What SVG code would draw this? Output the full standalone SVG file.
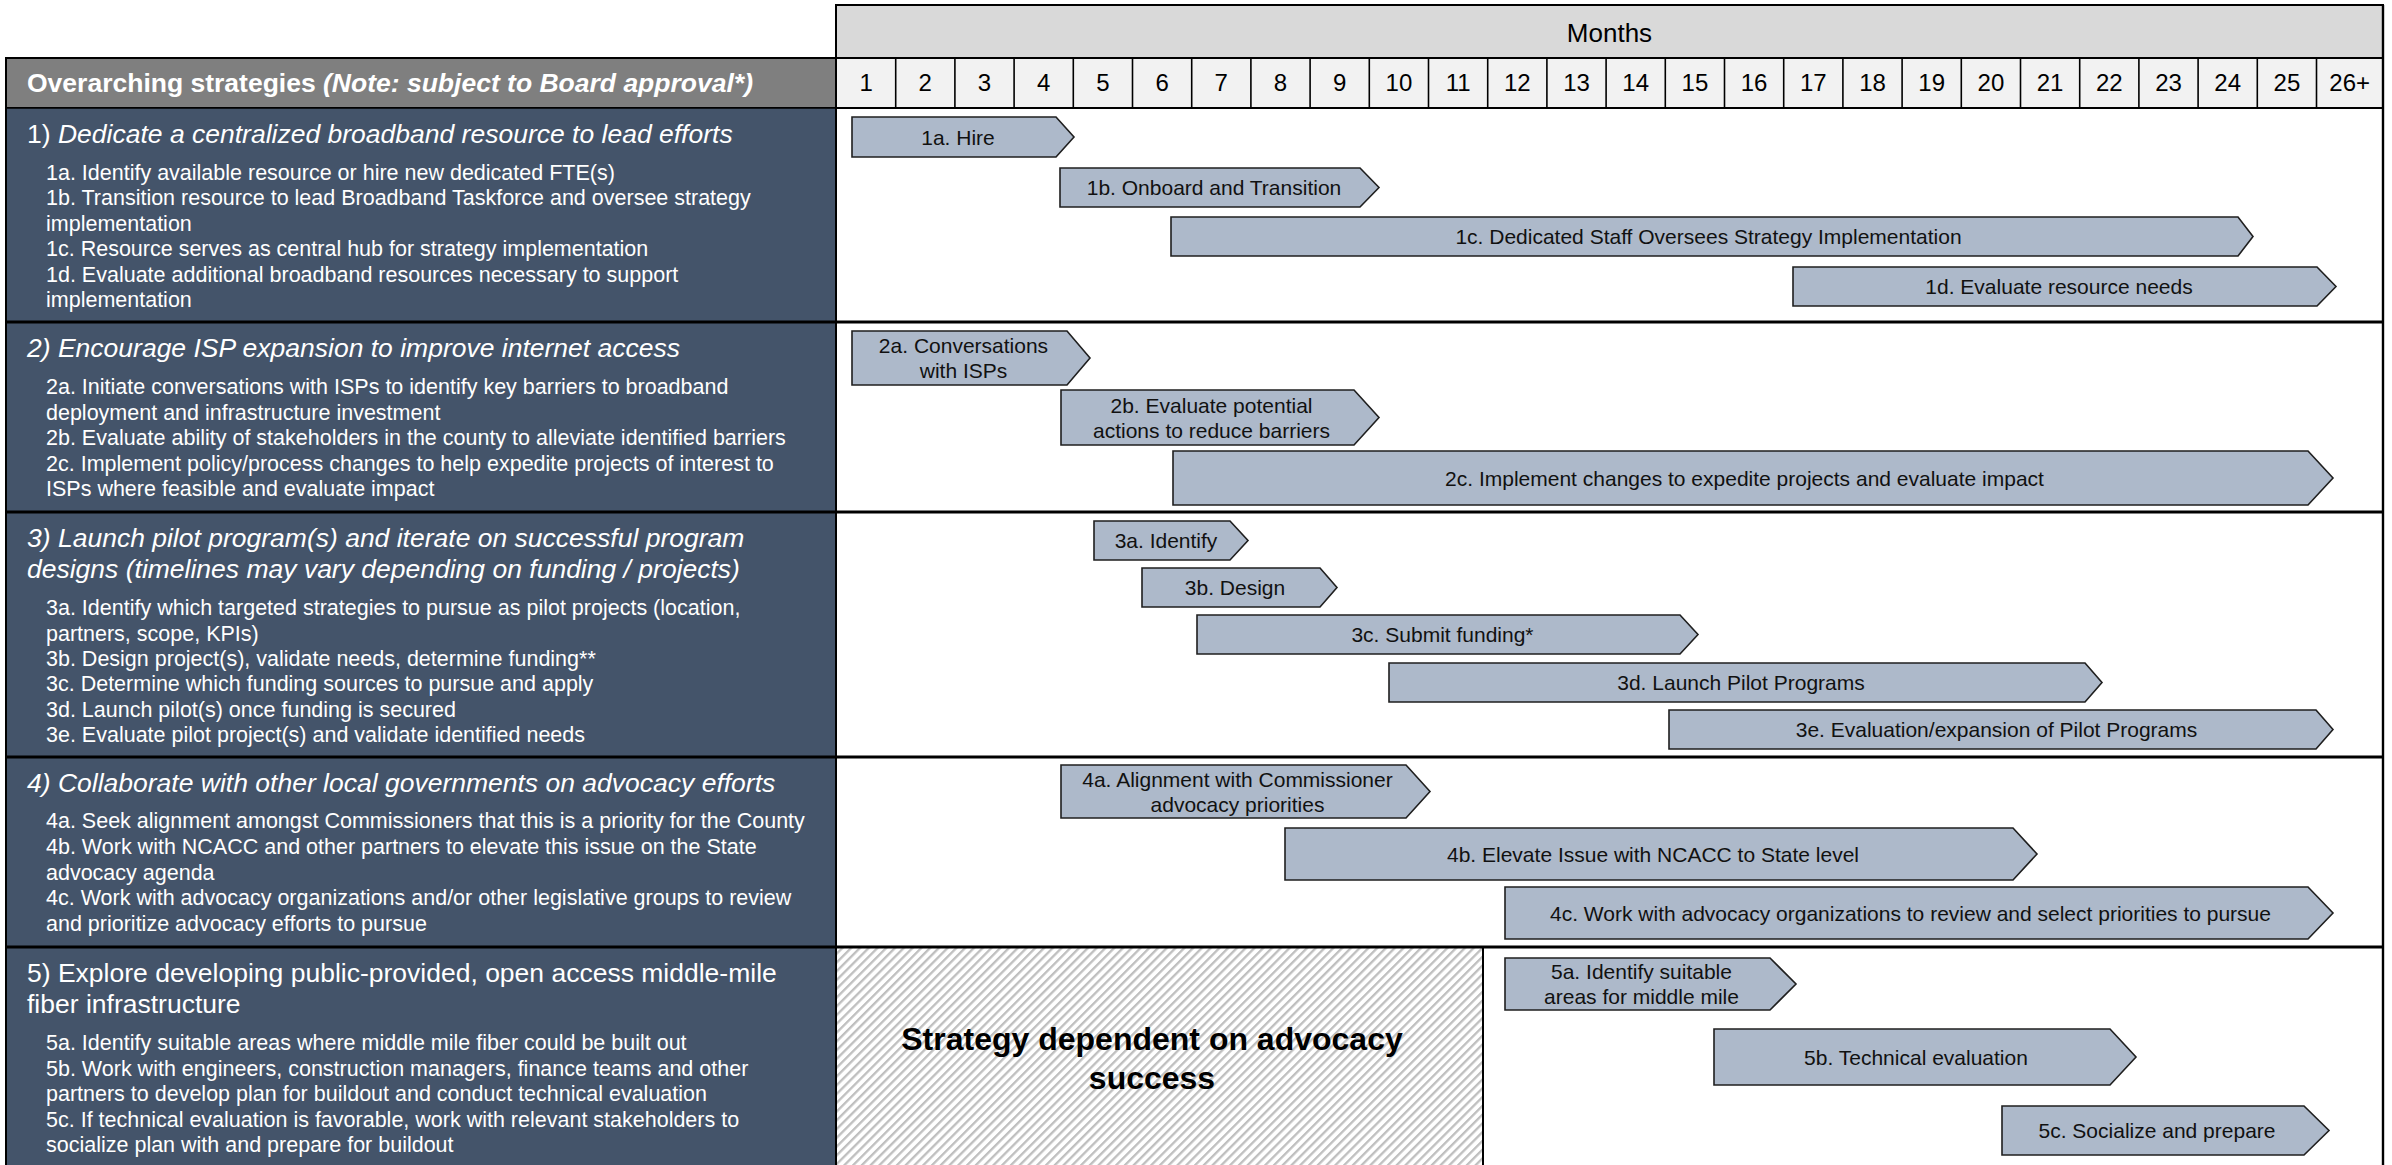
<svg xmlns="http://www.w3.org/2000/svg" width="2392" height="1165" viewBox="0 0 2392 1165">
<defs>
<style>
text{font-family:"Liberation Sans",Arial,sans-serif}
.lp{fill:#44546A}
.hd{fill:#FFFFFF;font-size:26.5px}
.it{font-style:italic}
.sub{fill:#FFFFFF;font-size:21.5px}
.bar{fill:#ADB9CA;stroke:#1F1F1F;stroke-width:1.6;stroke-linejoin:miter}
.bt{fill:#111111;font-size:21px;text-anchor:middle}
.num{fill:#000000;font-size:24px;text-anchor:middle}
.thick{stroke:#000000;stroke-width:3.2}
.thin{stroke:#000000;stroke-width:1.6}
</style>
<pattern id="hatch" patternUnits="userSpaceOnUse" width="6.2" height="6.2" patternTransform="rotate(45)">
<rect x="0" y="0" width="6.2" height="6.2" fill="#FFFFFF"/>
<rect x="0" y="0" width="2.3" height="6.2" fill="#BFBFBF"/>
</pattern>
</defs>
<rect x="0" y="0" width="2392" height="1165" fill="#FFFFFF"/>

<!-- Header: Months -->
<g id="months-header">
<rect x="836" y="5" width="1547" height="53" fill="#D9D9D9" stroke="#000" stroke-width="2"/>
<text x="1609.5" y="42" font-size="26" text-anchor="middle" fill="#000">Months</text>
</g>
<g id="month-numbers">
<rect x="836" y="58" width="1547" height="50" fill="#F2F2F2" stroke="#000" stroke-width="2"/>
<g stroke="#000" stroke-width="1.6">
<line x1="895.7" y1="58" x2="895.7" y2="108"/><line x1="954.9" y1="58" x2="954.9" y2="108"/><line x1="1014.1" y1="58" x2="1014.1" y2="108"/><line x1="1073.3" y1="58" x2="1073.3" y2="108"/><line x1="1132.5" y1="58" x2="1132.5" y2="108"/><line x1="1191.7" y1="58" x2="1191.7" y2="108"/><line x1="1250.9" y1="58" x2="1250.9" y2="108"/><line x1="1310.1" y1="58" x2="1310.1" y2="108"/><line x1="1369.3" y1="58" x2="1369.3" y2="108"/><line x1="1428.5" y1="58" x2="1428.5" y2="108"/><line x1="1487.7" y1="58" x2="1487.7" y2="108"/><line x1="1546.9" y1="58" x2="1546.9" y2="108"/><line x1="1606.1" y1="58" x2="1606.1" y2="108"/><line x1="1665.3" y1="58" x2="1665.3" y2="108"/><line x1="1724.5" y1="58" x2="1724.5" y2="108"/><line x1="1783.7" y1="58" x2="1783.7" y2="108"/><line x1="1842.9" y1="58" x2="1842.9" y2="108"/><line x1="1902.1" y1="58" x2="1902.1" y2="108"/><line x1="1961.3" y1="58" x2="1961.3" y2="108"/><line x1="2020.5" y1="58" x2="2020.5" y2="108"/><line x1="2079.7" y1="58" x2="2079.7" y2="108"/><line x1="2138.9" y1="58" x2="2138.9" y2="108"/><line x1="2198.1" y1="58" x2="2198.1" y2="108"/><line x1="2257.3" y1="58" x2="2257.3" y2="108"/><line x1="2316.5" y1="58" x2="2316.5" y2="108"/>
</g>
<text class="num" x="866.1" y="91">1</text><text class="num" x="925.3" y="91">2</text><text class="num" x="984.5" y="91">3</text><text class="num" x="1043.7" y="91">4</text><text class="num" x="1102.9" y="91">5</text><text class="num" x="1162.1" y="91">6</text><text class="num" x="1221.3" y="91">7</text><text class="num" x="1280.5" y="91">8</text><text class="num" x="1339.7" y="91">9</text><text class="num" x="1398.9" y="91">10</text><text class="num" x="1458.1" y="91">11</text><text class="num" x="1517.3" y="91">12</text><text class="num" x="1576.5" y="91">13</text><text class="num" x="1635.7" y="91">14</text><text class="num" x="1694.9" y="91">15</text><text class="num" x="1754.1" y="91">16</text><text class="num" x="1813.3" y="91">17</text><text class="num" x="1872.5" y="91">18</text><text class="num" x="1931.7" y="91">19</text><text class="num" x="1990.9" y="91">20</text><text class="num" x="2050.1" y="91">21</text><text class="num" x="2109.3" y="91">22</text><text class="num" x="2168.5" y="91">23</text><text class="num" x="2227.7" y="91">24</text><text class="num" x="2286.9" y="91">25</text><text class="num" x="2349.7" y="91">26+</text>
</g>

<!-- Left header -->
<g id="strategies-header">
<rect x="6" y="58" width="830" height="50" fill="#7F7F7F" stroke="#000" stroke-width="2"/>
<text class="hd" x="27" y="92" font-weight="bold">Overarching strategies <tspan class="it">(Note: subject to Board approval*)</tspan></text>
</g>

<!-- Strategy 1 -->
<g id="strategy-1">
<rect class="lp" x="6" y="108" width="830" height="214"/>
<text class="hd" x="27" y="143">1) <tspan class="it">Dedicate a centralized broadband resource to lead efforts</tspan></text>
<text class="sub" x="46" y="180">1a. Identify available resource or hire new dedicated FTE(s)</text>
<text class="sub" x="46" y="205">1b. Transition resource to lead Broadband Taskforce and oversee strategy</text>
<text class="sub" x="46" y="230.5">implementation</text>
<text class="sub" x="46" y="256">1c. Resource serves as central hub for strategy implementation</text>
<text class="sub" x="46" y="281.5">1d. Evaluate additional broadband resources necessary to support</text>
<text class="sub" x="46" y="307">implementation</text>
</g>

<!-- Strategy 2 -->
<g id="strategy-2">
<rect class="lp" x="6" y="322" width="830" height="190"/>
<text class="hd it" x="27" y="357">2) Encourage ISP expansion to improve internet access</text>
<text class="sub" x="46" y="394">2a. Initiate conversations with ISPs to identify key barriers to broadband</text>
<text class="sub" x="46" y="419.5">deployment and infrastructure investment</text>
<text class="sub" x="46" y="445">2b. Evaluate ability of stakeholders in the county to alleviate identified barriers</text>
<text class="sub" x="46" y="470.5">2c. Implement policy/process changes to help expedite projects of interest to</text>
<text class="sub" x="46" y="496">ISPs where feasible and evaluate impact</text>
</g>

<!-- Strategy 3 -->
<g id="strategy-3">
<rect class="lp" x="6" y="512" width="830" height="245"/>
<text class="hd it" x="27" y="547">3) Launch pilot program(s) and iterate on successful program</text>
<text class="hd it" x="27" y="578">designs (timelines may vary depending on funding / projects)</text>
<text class="sub" x="46" y="615">3a. Identify which targeted strategies to pursue as pilot projects (location,</text>
<text class="sub" x="46" y="640.5">partners, scope, KPIs)</text>
<text class="sub" x="46" y="666">3b. Design project(s), validate needs, determine funding**</text>
<text class="sub" x="46" y="691">3c. Determine which funding sources to pursue and apply</text>
<text class="sub" x="46" y="716.5">3d. Launch pilot(s) once funding is secured</text>
<text class="sub" x="46" y="742">3e. Evaluate pilot project(s) and validate identified needs</text>
</g>

<!-- Strategy 4 -->
<g id="strategy-4">
<rect class="lp" x="6" y="757" width="830" height="190"/>
<text class="hd it" x="27" y="792">4) Collaborate with other local governments on advocacy efforts</text>
<text class="sub" x="46" y="828">4a. Seek alignment amongst Commissioners that this is a priority for the County</text>
<text class="sub" x="46" y="854">4b. Work with NCACC and other partners to elevate this issue on the State</text>
<text class="sub" x="46" y="879.5">advocacy agenda</text>
<text class="sub" x="46" y="905">4c. Work with advocacy organizations and/or other legislative groups to review</text>
<text class="sub" x="46" y="930.5">and prioritize advocacy efforts to pursue</text>
</g>

<!-- Strategy 5 -->
<g id="strategy-5">
<rect class="lp" x="6" y="947" width="830" height="218"/>
<text class="hd" x="27" y="982">5) Explore developing public-provided, open access middle-mile</text>
<text class="hd" x="27" y="1013">fiber infrastructure</text>
<text class="sub" x="46" y="1050">5a. Identify suitable areas where middle mile fiber could be built out</text>
<text class="sub" x="46" y="1075.5">5b. Work with engineers, construction managers, finance teams and other</text>
<text class="sub" x="46" y="1101">partners to develop plan for buildout and conduct technical evaluation</text>
<text class="sub" x="46" y="1126.5">5c. If technical evaluation is favorable, work with relevant stakeholders to</text>
<text class="sub" x="46" y="1152">socialize plan with and prepare for buildout</text>
</g>

<!-- Hatched area -->
<g id="advocacy-dependent">
<rect x="836" y="947" width="647" height="218" fill="url(#hatch)"/>
<line x1="1483" y1="947" x2="1483" y2="1165" stroke="#000" stroke-width="2"/>
<text x="1152" y="1050" font-size="32" font-weight="bold" text-anchor="middle" fill="#000">Strategy dependent on advocacy</text>
<text x="1152" y="1089" font-size="32" font-weight="bold" text-anchor="middle" fill="#000">success</text>
</g>

<!-- Grid / table lines -->
<g id="connectors">
<line class="thin" x1="6" y1="108" x2="2383" y2="108"/>
<line class="thick" x1="6" y1="322" x2="2383" y2="322"/>
<line class="thick" x1="6" y1="512" x2="2383" y2="512"/>
<line class="thick" x1="6" y1="757" x2="2383" y2="757"/>
<line class="thick" x1="6" y1="947" x2="2383" y2="947"/>
<line x1="6" y1="57" x2="6" y2="1165" stroke="#000" stroke-width="2"/>
<line x1="836" y1="5" x2="836" y2="1165" stroke="#000" stroke-width="2"/>
<line x1="2383" y1="5" x2="2383" y2="1165" stroke="#000" stroke-width="2.4"/>
</g>

<!-- Bars -->
<g id="bar-1a"><polygon class="bar" points="852,117 1056,117 1074,137 1056,157 852,157"/><text class="bt" x="958" y="144.5">1a. Hire</text></g>
<g id="bar-1b"><polygon class="bar" points="1060,168 1360,168 1379,187.5 1360,207 1060,207"/><text class="bt" x="1214" y="195">1b. Onboard and Transition</text></g>
<g id="bar-1c"><polygon class="bar" points="1171,217 2238,217 2253,236.5 2238,256 1171,256"/><text class="bt" x="1708.5" y="244">1c. Dedicated Staff Oversees Strategy Implementation</text></g>
<g id="bar-1d"><polygon class="bar" points="1793,267 2317,267 2336,286.5 2317,306 1793,306"/><text class="bt" x="2059" y="294">1d. Evaluate resource needs</text></g>

<g id="bar-2a"><polygon class="bar" points="852,331 1067,331 1090,358 1067,385 852,385"/><text class="bt" x="963.5" y="353">2a. Conversations</text><text class="bt" x="963.5" y="378">with ISPs</text></g>
<g id="bar-2b"><polygon class="bar" points="1061,390 1354,390 1379,417.5 1354,445 1061,445"/><text class="bt" x="1211.5" y="412.5">2b. Evaluate potential</text><text class="bt" x="1211.5" y="437.5">actions to reduce barriers</text></g>
<g id="bar-2c"><polygon class="bar" points="1173,451 2308,451 2333,478 2308,505 1173,505"/><text class="bt" x="1744.5" y="485.5">2c. Implement changes to expedite projects and evaluate impact</text></g>

<g id="bar-3a"><polygon class="bar" points="1094,521 1230,521 1248,540.5 1230,560 1094,560"/><text class="bt" x="1166" y="548">3a. Identify</text></g>
<g id="bar-3b"><polygon class="bar" points="1142,568 1320,568 1337,587.5 1320,607 1142,607"/><text class="bt" x="1235" y="595">3b. Design</text></g>
<g id="bar-3c"><polygon class="bar" points="1197,615 1680,615 1698,634.5 1680,654 1197,654"/><text class="bt" x="1442.5" y="642">3c. Submit funding*</text></g>
<g id="bar-3d"><polygon class="bar" points="1389,663 2085,663 2102,682.5 2085,702 1389,702"/><text class="bt" x="1741" y="690">3d. Launch Pilot Programs</text></g>
<g id="bar-3e"><polygon class="bar" points="1669,710 2316,710 2333,729.5 2316,749 1669,749"/><text class="bt" x="1996.5" y="737">3e. Evaluation/expansion of Pilot Programs</text></g>

<g id="bar-4a"><polygon class="bar" points="1061,765 1406,765 1430,791.5 1406,818 1061,818"/><text class="bt" x="1237.5" y="786.5">4a. Alignment with Commissioner</text><text class="bt" x="1237.5" y="811.5">advocacy priorities</text></g>
<g id="bar-4b"><polygon class="bar" points="1285,828 2013,828 2037,854 2013,880 1285,880"/><text class="bt" x="1653" y="861.5">4b. Elevate Issue with NCACC to State level</text></g>
<g id="bar-4c"><polygon class="bar" points="1505,887 2308,887 2333,913 2308,939 1505,939"/><text class="bt" x="1910.5" y="920.5">4c. Work with advocacy organizations to review and select priorities to pursue</text></g>

<g id="bar-5a"><polygon class="bar" points="1505,958 1770,958 1796,984 1770,1010 1505,1010"/><text class="bt" x="1641.5" y="979">5a. Identify suitable</text><text class="bt" x="1641.5" y="1004">areas for middle mile</text></g>
<g id="bar-5b"><polygon class="bar" points="1714,1029 2110,1029 2136,1057 2110,1085 1714,1085"/><text class="bt" x="1916" y="1064.5">5b. Technical evaluation</text></g>
<g id="bar-5c"><polygon class="bar" points="2002,1106 2304,1106 2329,1130.5 2304,1155 2002,1155"/><text class="bt" x="2157" y="1138">5c. Socialize and prepare</text></g>
</svg>
